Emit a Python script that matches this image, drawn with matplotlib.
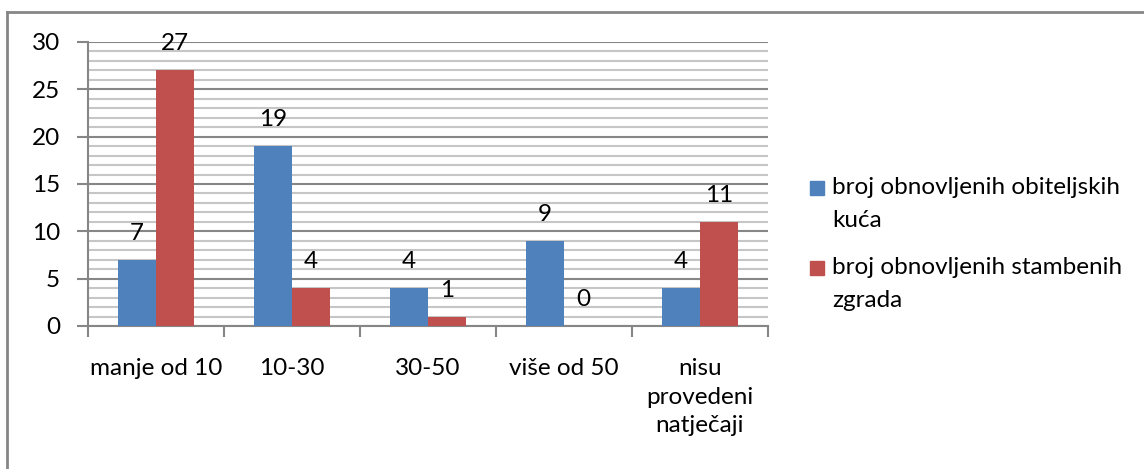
import matplotlib
matplotlib.use('Agg')
import matplotlib.pyplot as plt
import numpy as np
from matplotlib.lines import Line2D
from matplotlib.patches import Rectangle

categories = ['manje od 10', '10-30', '30-50', 'više od 50', 'nisu\nprovedeni\nnatječaji']
houses = [7, 19, 4, 9, 4]
buildings = [27, 4, 1, 0, 11]
series_names = ['broj obnovljenih obiteljskih\nkuća', 'broj obnovljenih stambenih\nzgrada']
blue = '#4f81bd'
red = '#c0504d'
fs = 17.5

plt.rcParams['font.family'] = ['Lato', 'DejaVu Sans']

W, H = 1144, 469
fig = plt.figure(figsize=(W / 100, H / 100), dpi=100)
ax = fig.add_axes([88 / W, 1 - 326 / H, 680 / W, 284 / H])

x = np.arange(len(categories))
w = 0.28
ax.bar(x - w / 2, houses, w, color=blue, zorder=3)
ax.bar(x + w / 2, buildings, w, color=red, zorder=3)

for xi, v in zip(x, houses):
    ax.annotate(str(v), (xi - w / 2, v), xytext=(0, 11.5), textcoords='offset points',
                ha='center', va='bottom', fontsize=fs)
for xi, v in zip(x, buildings):
    ax.annotate(str(v), (xi + w / 2, v), xytext=(0, 11.5), textcoords='offset points',
                ha='center', va='bottom', fontsize=fs)

ax.set_xlim(-0.5, len(categories) - 0.5)
ax.set_ylim(0, 30)
ax.set_yticks(range(0, 31, 5))
ax.set_yticks(range(0, 31, 1), minor=True)
ax.tick_params(axis='y', which='major', length=8, width=1.5, color='#868686', labelsize=fs, pad=12)
ax.tick_params(axis='y', which='minor', length=0)
ax.grid(axis='y', which='major', color='#868686', linewidth=1.5, zorder=0)
ax.grid(axis='y', which='minor', color='#c6c6c6', linewidth=1.5, zorder=0)

# x ticks at category boundaries, labels centered
ax.set_xticks(np.arange(-0.5, len(categories), 1))
ax.set_xticklabels([])
ax.tick_params(axis='x', which='major', length=8, width=1.5, color='#868686', direction='out')
ax.set_xticks(x, minor=True)
ax.set_xticklabels(categories, minor=True, fontsize=fs, linespacing=1.45, va='top')
ax.tick_params(axis='x', which='minor', length=0, pad=23)

for s in ['top', 'right']:
    ax.spines[s].set_visible(False)
for s in ['left', 'bottom']:
    ax.spines[s].set_color('#868686')
    ax.spines[s].set_linewidth(1.5)

# legend, square aligned with first text line (as in Excel)
for i, (name, c) in enumerate(zip(series_names, [blue, red])):
    y0 = 188 + i * 80
    fig.add_artist(Rectangle((810 / W, 1 - (y0 + 7) / H), 14 / W, 14 / H, color=c,
                             transform=fig.transFigure))
    for j, line in enumerate(name.split('\n')):
        fig.text(832 / W, 1 - (y0 + j * 32) / H, line, fontsize=fs, ha='left', va='center')

# outer chart border (top and left visible)
fig.add_artist(Line2D([7 / W, 1.01], [1 - 12 / H, 1 - 12 / H], color='#868686', linewidth=2))
fig.add_artist(Line2D([7 / W, 7 / W], [-0.01, 1 - 12 / H], color='#868686', linewidth=2))

fig.savefig('out.png', dpi=100)
